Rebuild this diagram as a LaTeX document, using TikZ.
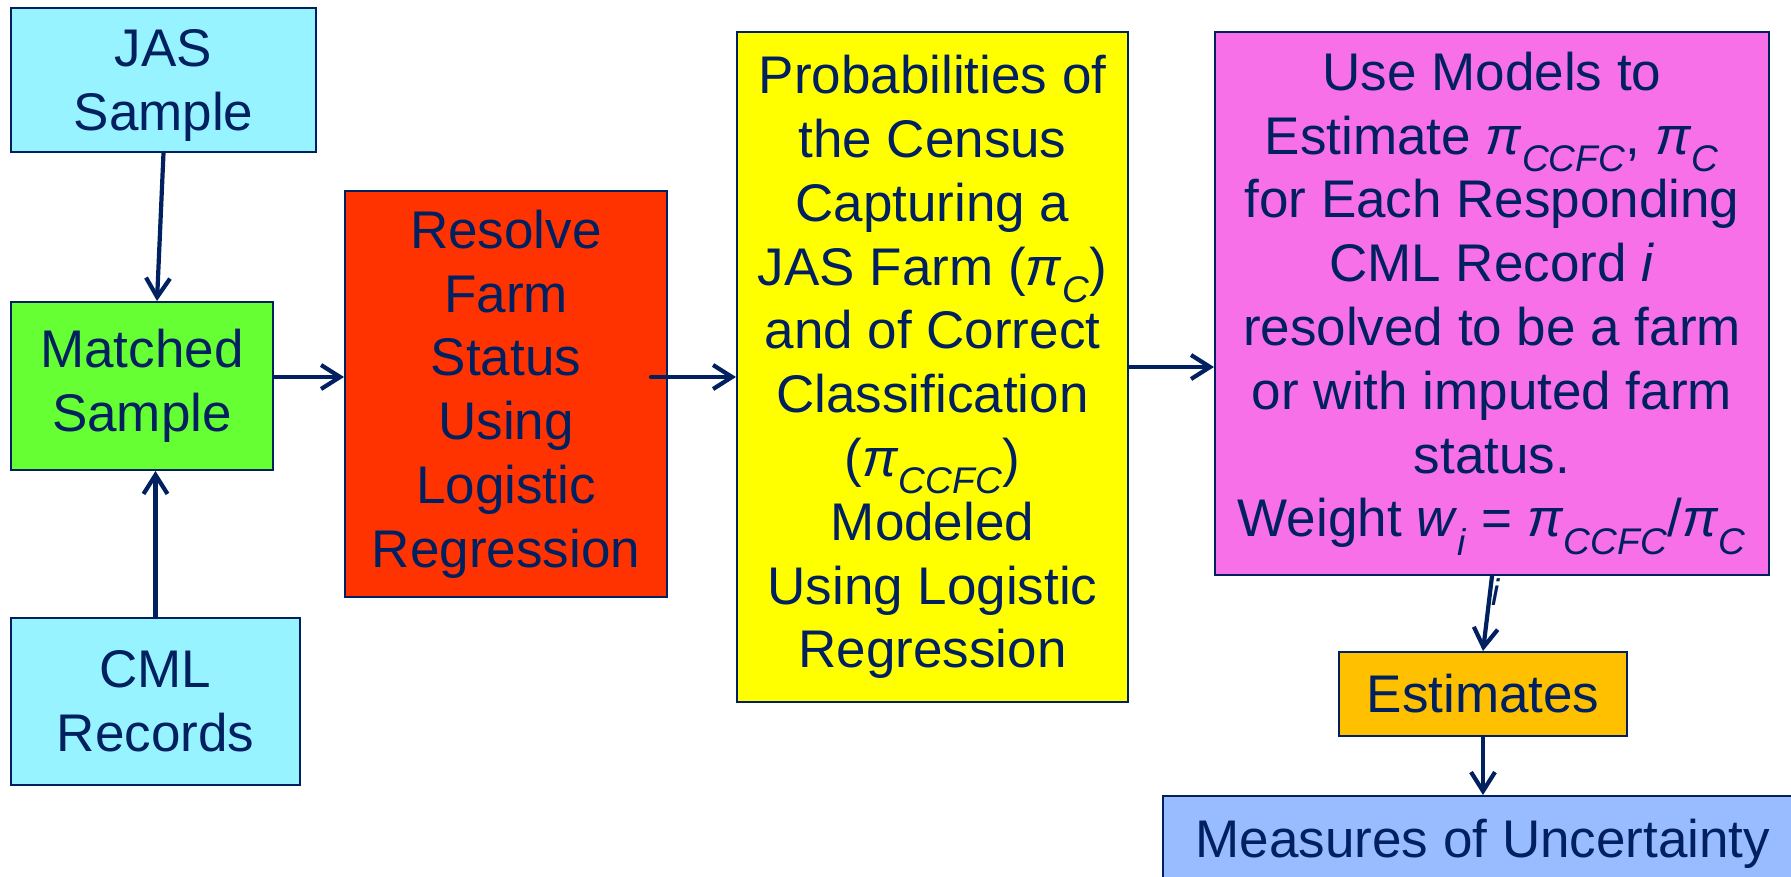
\documentclass[tikz,border=0pt]{standalone}
\usepackage{fontspec}
\setmainfont{Liberation Sans}
\usetikzlibrary{arrows.meta}
\usepackage{xcolor}
\definecolor{navy}{HTML}{002060}
\definecolor{skyfill}{HTML}{96F3FF}
\definecolor{limefill}{HTML}{66FF33}
\definecolor{redfill}{HTML}{FF3300}
\definecolor{yellowfill}{HTML}{FFFF00}
\definecolor{pinkfill}{HTML}{F870E8}
\definecolor{orangefill}{HTML}{FFC000}
\definecolor{bluefill}{HTML}{99BBFF}
\tikzset{
  box/.style = {rectangle, draw=navy, line width=2pt, align=center, inner sep=0pt, text=navy, font=\fontsize{53}{63.8}\selectfont},
  arrow/.style = {-{Straight Barb[length=19pt,width=24pt]}, line width=4.2pt, draw=navy, line cap=round}
}
\newcommand{\pivar}[1]{\textit{π}\textsubscript{\textit{#1}}}

\begin{document}
\begin{tikzpicture}[x=1pt,y=-1pt]
\useasboundingbox (0,0) rectangle (1791,876);
\clip (0,0) rectangle (1791,876);

% inputs on the left
\node[box, fill=skyfill, minimum width=305pt, minimum height=144pt, text depth=-6pt] (jas) at (163.5,80) {JAS\\Sample};
\node[box, fill=limefill, minimum width=262pt, minimum height=168pt] (match) at (142,386) {Matched\\Sample};
\node[box, fill=skyfill, minimum width=289pt, minimum height=167pt] (cml) at (155.5,701.5) {CML\\Records};

% modelling steps
\node[box, fill=redfill, minimum width=322pt, minimum height=406pt] (resolve) at (506,394) {Resolve\\Farm\\Status\\Using\\Logistic\\Regression};
\node[box, fill=yellowfill, minimum width=391pt, minimum height=670pt] (probs) at (932.5,367) {Probabilities of\\the Census\\Capturing a\\JAS Farm (\pivar{C})\\and of Correct\\Classification\\(\pivar{CCFC})\\Modeled\\Using Logistic\\Regression};
\node[text=navy, font=\fontsize{37}{37}\selectfont] (stray) at (1496,592) {\textit{i}};
\node[box, fill=pinkfill, minimum width=554pt, minimum height=543pt] (usemod) at (1492,303.5) {Use Models to\\Estimate \pivar{CCFC}, \pivar{C}\\for Each Responding\\CML Record \textit{i}\\resolved to be a farm\\or with imputed farm\\status.\\Weight \textit{w}\textsubscript{\textit{i}} = \pivar{CCFC}/\pivar{C}};

% outputs
\node[box, fill=orangefill, minimum width=288pt, minimum height=84pt] (est) at (1483,694) {Estimates};
\node[box, fill=bluefill, minimum width=640pt, minimum height=96pt] (unc) at (1483,844) {Measures of Uncertainty};

\draw[arrow] (jas.south) -- ([xshift=15pt]match.north);
\draw[arrow] (cml.north) -- (cml.north |- match.south);
\draw[arrow] ([yshift=9pt]match.east) -- ([yshift=9pt]match.east -| resolve.west);
\draw[arrow] ([xshift=-17pt,yshift=17pt]resolve.east) -- ([yshift=17pt]resolve.east -| probs.west);
\draw[arrow] (probs.east) -- (probs.east -| usemod.west);
\draw[arrow] (usemod.south) -- (est.north);
\draw[arrow] (est.south) -- (est.south |- unc.north);
\end{tikzpicture}
\end{document}
